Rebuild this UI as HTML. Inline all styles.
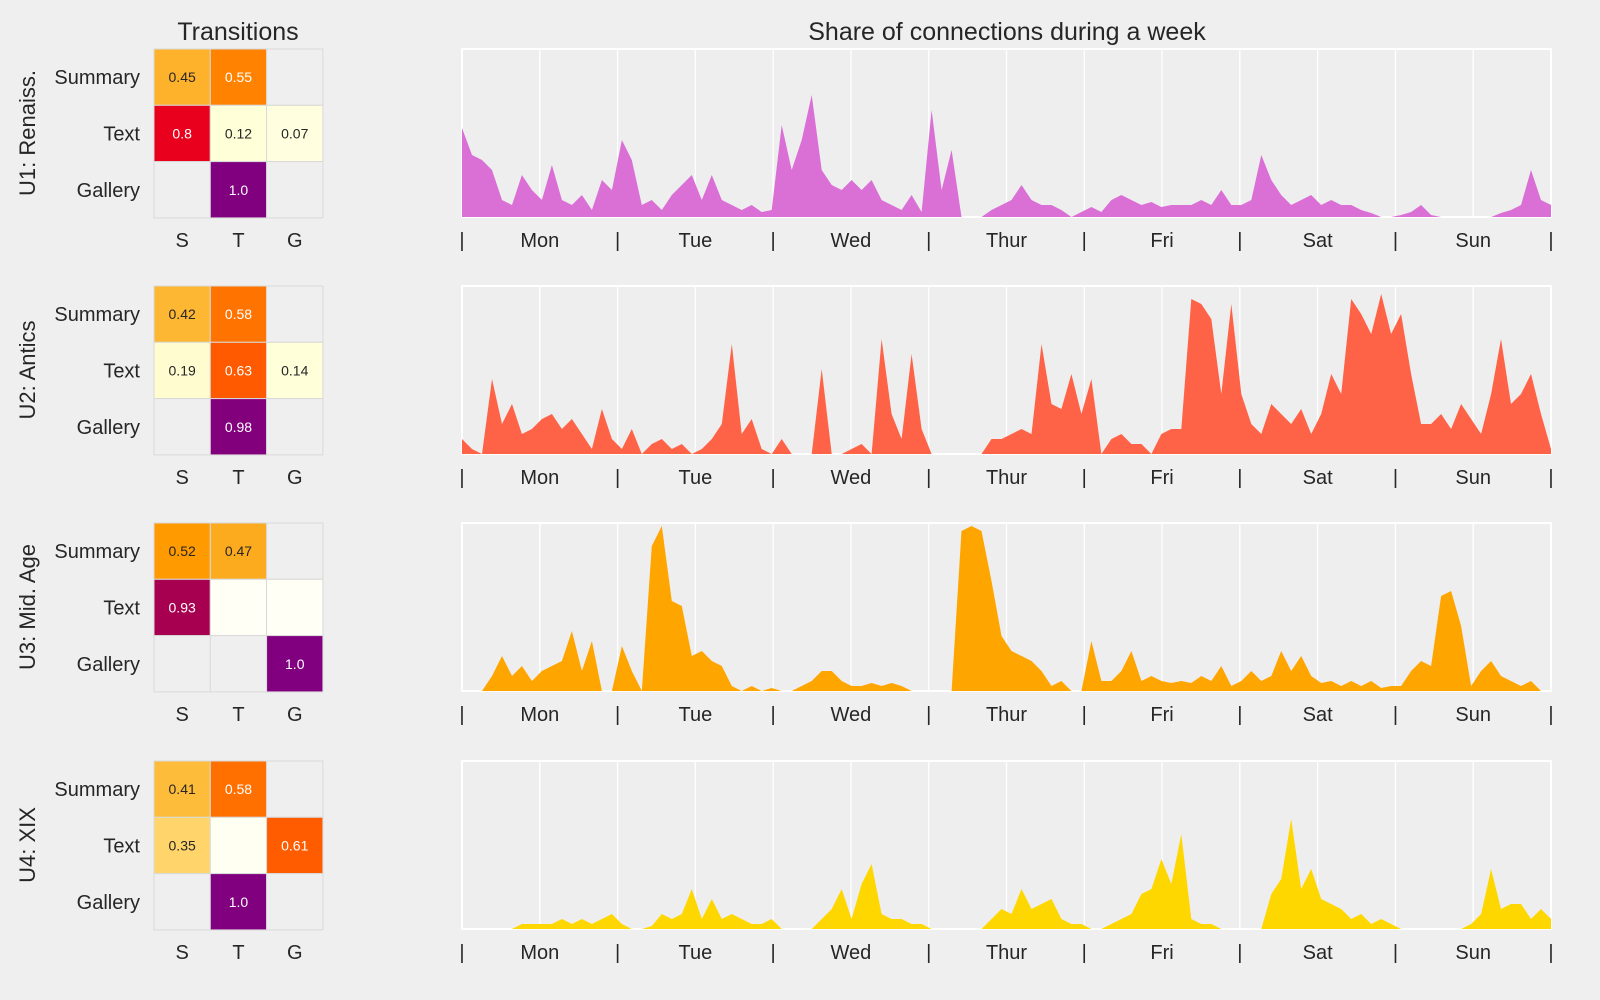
<!DOCTYPE html>
<html><head><meta charset="utf-8">
<style>
html,body{margin:0;padding:0;background:#efefef;}
svg{display:block;font-family:"Liberation Sans",Arial,sans-serif;}
</style></head>
<body>
<svg id="chart" width="1600" height="1000" viewBox="0 0 1600 1000" xmlns="http://www.w3.org/2000/svg">
<rect x="0" y="0" width="1600" height="1000" fill="#efefef"/>
<text x="238" y="40" font-size="25" text-anchor="middle" fill="#262626">Transitions</text>
<text x="1007" y="40" font-size="25" text-anchor="middle" fill="#262626">Share of connections during a week</text>
<g id="root"></g>
</svg>
<script>
const days = ["Mon","Tue","Wed","Thur","Fri","Sat","Sun"];
const panelLabels = ["U1: Renaiss.","U2: Antics","U3: Mid. Age","U4: XIX"];
const rowLabels = ["Summary","Text","Gallery"];
const colLabels = ["S","T","G"];
const seriesColors = ["#da70d6","#ff6347","#ffa500","#ffd700"];
// transition matrices (null = empty)
const trans1 = [[0.45,0.55,null],[0.8,0.12,0.07],[null,1.0,null]];
const trans2 = [[0.42,0.58,null],[0.19,0.63,0.14],[null,0.98,null]];
const trans3 = [[0.52,0.47,null],[0.93,"",""],[null,null,1.0]];
const trans4 = [[0.41,0.58,null],[0.35,"",0.61],[null,1.0,null]];
const cellColors1 = [["#feb12a","#ff8300",null],["#e8001d","#ffffd8","#ffffe0"],[null,"#800080",null]];
const cellColors2 = [["#feb733","#ff7300",null],["#fffdd0","#ff5a00","#ffffda"],[null,"#82007c",null]];
const cellColors3 = [["#ff9a00","#fdab1e",null],["#a80050","#fffff6","#fffff6"],[null,null,"#800080"]];
const cellColors4 = [["#fdbc3a","#ff7000",null],["#ffd56b","#fffff2","#ff5c00"],[null,"#800080",null]];
// weekly share series (arbitrary units, axis max 168)
const share1 = [89,62,57,47,17,12,42,27,17,52,17,12,22,7,37,27,77,57,12,17,7,22,32,42,17,42,17,12,7,12,5,7,92,47,77,122,47,32,27,37,27,37,17,12,7,22,5,107,27,67,0,0,0,7,12,17,32,17,12,12,7,0,5,10,5,17,22,17,12,15,10,12,12,12,17,12,27,12,12,17,62,37,22,12,17,22,12,17,12,12,7,4,0,0,2,5,12,2,0,0,0,0,0,0,4,7,12,47,17,12];
const share2 = [15,5,0,75,30,50,20,25,35,40,25,35,20,5,45,15,5,25,0,10,15,5,10,0,5,15,30,110,20,35,5,0,15,0,0,0,85,0,0,5,10,0,115,40,15,100,25,0,0,0,0,0,0,15,15,20,25,20,110,50,45,80,40,75,0,15,20,10,10,0,20,25,25,155,150,135,60,150,60,30,20,50,40,30,45,20,40,80,60,155,140,120,160,120,140,80,30,30,40,25,50,35,20,60,115,50,60,80,40,5];
const share3 = [0,0,0,15,35,15,25,10,20,25,30,60,20,50,0,0,45,20,0,145,165,90,85,35,40,30,25,5,0,5,0,3,0,0,5,10,20,20,10,5,5,8,5,8,5,0,0,0,0,0,160,165,160,110,55,40,35,30,20,5,10,0,0,50,10,10,20,40,10,15,10,8,10,8,15,10,25,5,10,20,10,15,40,20,35,15,8,10,5,10,5,10,3,5,5,20,30,25,95,100,65,5,20,30,15,10,5,10,0,0];
const share4 = [0,0,0,0,0,0,5,5,5,5,10,5,10,5,10,15,5,0,0,3,15,10,15,40,10,30,10,15,10,5,5,10,0,0,0,0,10,20,40,10,45,65,15,10,10,5,5,0,0,0,0,0,0,10,20,15,40,20,25,30,10,5,5,0,0,5,10,15,35,40,70,45,95,10,5,5,0,0,0,0,0,35,50,110,40,60,30,25,20,10,15,5,10,5,0,0,0,0,0,0,0,5,15,60,20,25,25,10,20,10];

const transList=[trans1,trans2,trans3,trans4];
const colorList=[cellColors1,cellColors2,cellColors3,cellColors4];
const shareList=[share1,share2,share3,share4];
const panelTops=[49,286,523,761];
const NS="http://www.w3.org/2000/svg";
const root=document.getElementById('root');
function mk(tag,attrs,parent){const e=document.createElementNS(NS,tag);for(const k in attrs)e.setAttribute(k,attrs[k]);(parent||root).appendChild(e);return e;}
const cell=56.3, hmX=154, chX=462, chW=1089, chH=168, yMax=168;
const xScale=(i,n)=>chX+i*chW/(n-1);
const yScale=(v,top)=>top+chH-v/yMax*chH;
const darkVals=v=>typeof v==="number"&&v>0.53;

panelLabels.forEach((pl,p)=>{
  const top=panelTops[p];
  const g=mk('g',{});
  
  
  const yl=mk('text',{x:0,y:0,'font-size':22,'text-anchor':'middle',fill:'#262626',transform:`translate(35,${top+84}) rotate(-90)`},g);
  yl.textContent=pl;
  
  
  const hm=mk('g',{},g);
  
  
  for(let r=0;r<3;r++){
    const rl=mk('text',{x:140,y:top+r*cell+cell/2+7,'font-size':20,'text-anchor':'end',fill:'#262626'},hm);
    rl.textContent=rowLabels[r];
    
    
    for(let c=0;c<3;c++){
      const col=colorList[p][r][c];
      const rc=mk('rect',{x:hmX+c*cell,y:top+r*cell,width:cell,height:cell,fill:col||'#efefef',stroke:'#d9d9d9','stroke-width':1},hm);
      
      
      const v=transList[p][r][c];
      if(typeof v==="number"){
        const t=mk('text',{x:hmX+c*cell+cell/2,y:top+r*cell+cell/2+5,'font-size':14,'text-anchor':'middle',fill:darkVals(v)?'#ffffff':'#262626'},hm);
        t.textContent=(v===1?"1.0":String(v));
        
        
      }
    }
  }
  for(let c=0;c<3;c++){
    const cl=mk('text',{x:hmX+c*cell+cell/2,y:top+chH+30,'font-size':20,'text-anchor':'middle',fill:'#262626'},hm);
    cl.textContent=colLabels[c];
    
    
  }
  const ac=mk('g',{},g);
  
  
  mk('rect',{x:chX,y:top,width:chW,height:chH,fill:'#eeeeee',stroke:'#ffffff','stroke-width':2},ac);
  for(let k=1;k<14;k++){
    const x=chX+k*chW/14;
    const gl=mk('line',{x1:x,x2:x,y1:top,y2:top+chH,stroke:'#ffffff','stroke-width':1.3},ac);
    
    
  }
  const data=shareList[p];
  let d=`M${chX},${top+chH}`;
  data.forEach((v,i)=>{d+=` L${xScale(i,data.length).toFixed(1)},${yScale(v,top).toFixed(1)}`;});
  d+=` L${chX+chW},${top+chH} Z`;
  const area=mk('path',{d:d,fill:seriesColors[p],stroke:'none'},ac);
  
  
  for(let k=0;k<=7;k++){
    const t=mk('text',{x:chX+k*chW/7,y:top+chH+30,'font-size':20,'text-anchor':'middle',fill:'#262626'},ac);
    t.textContent='|';
    
    
  }
  days.forEach((dn,k)=>{
    const t=mk('text',{x:chX+(k+0.5)*chW/7,y:top+chH+30,'font-size':20,'text-anchor':'middle',fill:'#262626'},ac);
    t.textContent=dn;
    
    
  });
});
</script>
</body></html>
